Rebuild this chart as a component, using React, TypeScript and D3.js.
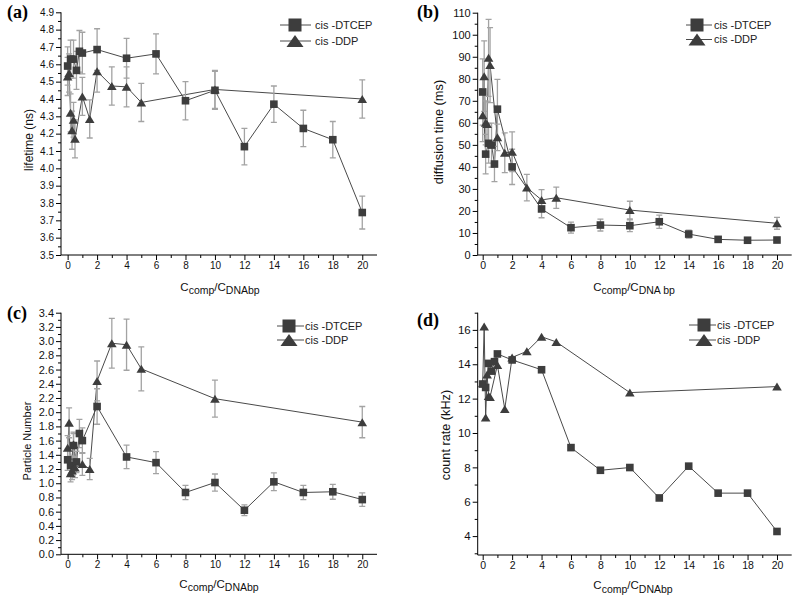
import React, { useEffect, useRef } from 'react';
import * as d3 from 'd3';

// concentration ratios
const xDtcep = [0, 0.2, 0.4, 0.6, 0.8, 1, 2, 4, 6, 8, 10, 12, 14, 16, 18, 20];
const xDdp = [0, 0.1, 0.2, 0.3, 0.4, 0.5, 1, 1.5, 2, 3, 4, 5, 10, 20];
const xTicks = [0, 2, 4, 6, 8, 10, 12, 14, 16, 18, 20];
const xMinorTicks = [1, 3, 5, 7, 9, 11, 13, 15, 17, 19];
const seriesNames = ['cis -DTCEP', 'cis -DDP'];

// (a) lifetime
const lifetimeDtcep = [4.59, 4.63, 4.63, 4.565, 4.675, 4.665, 4.685, 4.635, 4.66, 4.39, 4.45, 4.125, 4.37, 4.23, 4.165, 3.745];
const lifetimeDtcepErr = [0.11, 0.11, 0.11, 0.11, 0.12, 0.12, 0.12, 0.115, 0.115, 0.11, 0.11, 0.105, 0.105, 0.105, 0.105, 0.095];
const lifetimeDdp = [4.53, 4.55, 4.32, 4.22, 4.28, 4.17, 4.415, 4.285, 4.56, 4.475, 4.47, 4.38, 4.455, 4.4];
const lifetimeDdpErr = [0.11, 0.11, 0.11, 0.11, 0.1, 0.11, 0.11, 0.11, 0.12, 0.11, 0.115, 0.11, 0.11, 0.11];

// (b) diffusion time
const diffusionDtcep = [74, 45.8, 50.7, 49.9, 41.3, 66.2, 40, 20.9, 12.4, 13.6, 13.3, 15.1, 9.5, 7.1, 6.7, 6.8];
const diffusionDtcepErr = [15, 9, 9, 10, 8, 13.5, 8, 4, 2.5, 2.7, 2.7, 3, 1.8, 1, 0.8, 1];
const diffusionDdp = [63.5, 81.2, 60, 59.5, 89.5, 86.2, 53.4, 46.4, 46.9, 30.6, 25, 26, 20.4, 14.4];
const diffusionDdpErr = [12, 16, 10, 10, 17.5, 17, 6, 9, 9, 6, 4.7, 4.8, 4, 2.7];

// (c) particle number
const particleDtcep = [1.33, 1.25, 1.53, 1.3, 1.7, 1.6, 2.08, 1.37, 1.29, 0.87, 1.01, 0.62, 1.02, 0.87, 0.88, 0.77];
const particleDtcepErr = [0.15, 0.13, 0.17, 0.15, 0.2, 0.18, 0.25, 0.165, 0.155, 0.1, 0.12, 0.075, 0.125, 0.1, 0.105, 0.095];
const particleDdp = [1.5, 1.85, 1.14, 1.18, 1.55, 1.22, 1.27, 1.2, 2.44, 2.97, 2.95, 2.61, 2.19, 1.86];
const particleDdpErr = [0.17, 0.21, 0.12, 0.13, 0.17, 0.14, 0.16, 0.15, 0.28, 0.35, 0.36, 0.31, 0.26, 0.22];

// (d) count rate (no error bars)
const countDtcep = [12.85, 12.65, 14.05, 13.6, 14.15, 14.6, 14.25, 13.68, 9.15, 7.83, 7.99, 6.22, 8.07, 6.5, 6.5, 4.27];
const countDdp = [12.9, 16.2, 10.9, 13.4, 12.15, 12.1, 13.95, 11.4, 14.4, 14.75, 15.6, 15.3, 12.35, 12.7];

interface Panel {
  letter: string;
  letterPos: [number, number];
  xDomain: [number, number];
  xRange: [number, number];
  yDomain: [number, number];
  yRange: [number, number];
  yTicks: number[];
  yMinor: number[];
  yFmt: (v: number) => string;
  yTickFont: number;
  xTickFont: number;
  yLabel: string;
  yLabelPos: [number, number];
  yLabelFont: number;
  xSub2: string;
  xLabelPos: [number, number];
  dtcep: number[];
  dtcepErr?: number[];
  ddp: number[];
  ddpErr?: number[];
  legend: { mx: number; lx0: number; lx1: number; tx: number; rows: [number, number] };
}

const range = (a: number, b: number, s: number) =>
  d3.range(Math.round((b - a) / s) + 1).map(i => +(a + i * s).toFixed(4));

const panels: Panel[] = [
  {
    letter: '(a)', letterPos: [7, 18],
    xDomain: [-0.45, 21], xRange: [61, 377],
    yDomain: [3.5, 4.9], yRange: [255, 12.3],
    yTicks: range(3.5, 4.9, 0.1), yMinor: range(3.55, 4.85, 0.1), yFmt: d3.format('.1f'),
    yTickFont: 10, xTickFont: 10,
    yLabel: 'lifetime (ns)', yLabelPos: [29, 140], yLabelFont: 12,
    xSub2: 'DNAbp', xLabelPos: [220, 290.5],
    dtcep: lifetimeDtcep, dtcepErr: lifetimeDtcepErr, ddp: lifetimeDdp, ddpErr: lifetimeDdpErr,
    legend: { mx: 295, lx0: 280, lx1: 311, tx: 315, rows: [25, 41] },
  },
  {
    letter: '(b)', letterPos: [417, 18],
    xDomain: [-0.34, 21], xRange: [477.7, 791.7],
    yDomain: [0, 110], yRange: [255, 12.7],
    yTicks: range(0, 110, 10), yMinor: range(5, 105, 10), yFmt: d3.format('d'),
    yTickFont: 11, xTickFont: 10.5,
    yLabel: 'diffusion time (ms)', yLabelPos: [439, 132], yLabelFont: 12.8,
    xSub2: 'DNA bp', xLabelPos: [634, 290.5],
    dtcep: diffusionDtcep, dtcepErr: diffusionDtcepErr, ddp: diffusionDdp, ddpErr: diffusionDdpErr,
    legend: { mx: 697, lx0: 686, lx1: 712, tx: 714, rows: [25, 39.5] },
  },
  {
    letter: '(c)', letterPos: [7, 318.5],
    xDomain: [-0.45, 21], xRange: [61, 377],
    yDomain: [0, 3.4], yRange: [554.3, 312.7],
    yTicks: range(0, 3.4, 0.2), yMinor: range(0.1, 3.3, 0.2), yFmt: d3.format('.1f'),
    yTickFont: 11, xTickFont: 10,
    yLabel: 'Particle Number', yLabelPos: [27.5, 441], yLabelFont: 11,
    xSub2: 'DNAbp', xLabelPos: [219, 587.5],
    dtcep: particleDtcep, dtcepErr: particleDtcepErr, ddp: particleDdp, ddpErr: particleDdpErr,
    legend: { mx: 289, lx0: 277, lx1: 304, tx: 305, rows: [326, 340] },
  },
  {
    letter: '(d)', letterPos: [417, 326],
    xDomain: [-0.34, 21], xRange: [477.7, 791.7],
    yDomain: [2.9, 17], yRange: [555, 312.7],
    yTicks: range(4, 16, 2), yMinor: range(3, 17, 2), yFmt: d3.format('d'),
    yTickFont: 11.5, xTickFont: 10.5,
    yLabel: 'count rate (kHz)', yLabelPos: [446, 435], yLabelFont: 12.7,
    xSub2: 'DNAbp', xLabelPos: [633, 589],
    dtcep: countDtcep, ddp: countDdp,
    legend: { mx: 704, lx0: 689, lx1: 716, tx: 717, rows: [325, 340] },
  },
];

const FONT = "'Liberation Sans', Arial, sans-serif";
const MARK = '#3d3d3d';
const LINE = '#4a4a4a';
const ERR = '#a3a3a3';

const trianglePath = (w: number, h: number) =>
  `M0,${-h / 2}L${w / 2},${h / 2}L${-w / 2},${h / 2}Z`;

const App: React.FC = () => {
  const svgRef = useRef<SVGSVGElement>(null);

  useEffect(() => {
    if (!svgRef.current) return;
    const svg = d3.select(svgRef.current);
    svg.selectAll('*').remove();

    panels.forEach(p => {
      const g = svg.append('g');
      const x = d3.scaleLinear().domain(p.xDomain).range(p.xRange);
      const y = d3.scaleLinear().domain(p.yDomain).range(p.yRange);
      const bottom = p.yRange[0];
      const left = p.xRange[0];

      // axes
      const xAxis = g.append('g')
        .attr('transform', `translate(0,${bottom})`)
        .call(d3.axisBottom(x).tickValues(xTicks).tickSize(5).tickPadding(2).tickFormat(d3.format('d')));
      xAxis.select('.domain').remove();
      xAxis.append('path').attr('d', `M${p.xRange[0]},0H${p.xRange[1]}`).attr('stroke', '#000');
      xAxis.selectAll('text').style('font-family', FONT).style('font-size', `${p.xTickFont}px`).style('fill', '#111');
      g.append('g')
        .attr('transform', `translate(0,${bottom})`)
        .call(d3.axisBottom(x).tickValues(xMinorTicks).tickSize(3).tickFormat(() => ''))
        .select('.domain').remove();

      const yAxis = g.append('g')
        .attr('transform', `translate(${left},0)`)
        .call(d3.axisLeft(y).tickValues(p.yTicks).tickSize(5).tickPadding(2).tickFormat(d => p.yFmt(+d)));
      yAxis.select('.domain').remove();
      yAxis.append('path').attr('d', `M0,${p.yRange[0]}V${p.yRange[1]}`).attr('stroke', '#000');
      yAxis.selectAll('text').style('font-family', FONT).style('font-size', `${p.yTickFont}px`).style('fill', '#111');
      g.append('g')
        .attr('transform', `translate(${left},0)`)
        .call(d3.axisLeft(y).tickValues(p.yMinor).tickSize(3).tickFormat(() => ''))
        .select('.domain').remove();

      // panel letter
      g.append('text')
        .attr('x', p.letterPos[0]).attr('y', p.letterPos[1])
        .style('font-family', "'Liberation Serif', 'Times New Roman', serif")
        .style('font-weight', 'bold').style('font-size', '18px')
        .text(p.letter);

      // y label
      g.append('text')
        .attr('transform', `translate(${p.yLabelPos[0]},${p.yLabelPos[1]}) rotate(-90)`)
        .attr('text-anchor', 'middle').attr('dy', '0.35em')
        .style('font-family', FONT).style('font-size', `${p.yLabelFont}px`).style('fill', '#111')
        .text(p.yLabel);

      // x label with subscripts
      const xl = g.append('text')
        .attr('x', p.xLabelPos[0]).attr('y', p.xLabelPos[1])
        .attr('text-anchor', 'middle')
        .style('font-family', FONT).style('font-size', '11.5px').style('fill', '#111');
      xl.append('tspan').text('C');
      xl.append('tspan').attr('dy', 3.5).style('font-size', '10.5px').text('comp');
      xl.append('tspan').attr('dy', -3.5).text('/C');
      xl.append('tspan').attr('dy', 3.5).style('font-size', '10.5px').text(p.xSub2);

      const series = [
        { xs: xDtcep, ys: p.dtcep, err: p.dtcepErr, shape: 'square' },
        { xs: xDdp, ys: p.ddp, err: p.ddpErr, shape: 'triangle' },
      ];

      const line = d3.line<[number, number]>().x(d => x(d[0])).y(d => y(d[1]));
      series.forEach(s => {
        const pts = s.xs.map((v, i) => [v, s.ys[i]] as [number, number]);
        g.append('path').datum(pts)
          .attr('d', line).attr('fill', 'none').attr('stroke', LINE).attr('stroke-width', 1);
      });

      series.forEach(s => {
        if (!s.err) return;
        const eg = g.append('g').attr('stroke', ERR).attr('stroke-width', 1.3).attr('fill', 'none');
        s.xs.forEach((v, i) => {
          const cx = x(v);
          const y0 = y(s.ys[i] - s.err![i]);
          const y1 = y(s.ys[i] + s.err![i]);
          eg.append('path').attr('d', `M${cx},${y0}V${y1}M${cx - 3},${y0}H${cx + 3}M${cx - 3},${y1}H${cx + 3}`);
        });
      });

      series.forEach(s => {
        s.xs.forEach((v, i) => {
          const cx = x(v);
          const cy = y(s.ys[i]);
          if (s.shape === 'square') {
            g.append('rect').attr('x', cx - 3.8).attr('y', cy - 3.8).attr('width', 7.6).attr('height', 7.6).attr('fill', MARK);
          } else {
            g.append('path').attr('transform', `translate(${cx},${cy})`).attr('d', trianglePath(9.6, 8)).attr('fill', MARK);
          }
        });
      });

      // legend
      const lg = p.legend;
      seriesNames.forEach((name, i) => {
        const ry = lg.rows[i];
        g.append('line').attr('x1', lg.lx0).attr('x2', lg.lx1).attr('y1', ry).attr('y2', ry).attr('stroke', LINE);
        if (i === 0) {
          g.append('rect').attr('x', lg.mx - 6.5).attr('y', ry - 6.5).attr('width', 13).attr('height', 13).attr('fill', MARK);
        } else {
          g.append('path').attr('transform', `translate(${lg.mx},${ry})`).attr('d', trianglePath(17, 12)).attr('fill', MARK);
        }
        g.append('text').attr('x', lg.tx).attr('y', ry).attr('dy', '0.35em')
          .style('font-family', FONT).style('font-size', '11px').style('fill', '#222')
          .text(name);
      });
    });
  }, []);

  return (
    <div style={{ position: 'absolute', left: 0, top: 0, width: 793, height: 595, background: '#fff' }}>
      <svg ref={svgRef} width={793} height={595} style={{ display: 'block' }} />
    </div>
  );
};

export default App;
